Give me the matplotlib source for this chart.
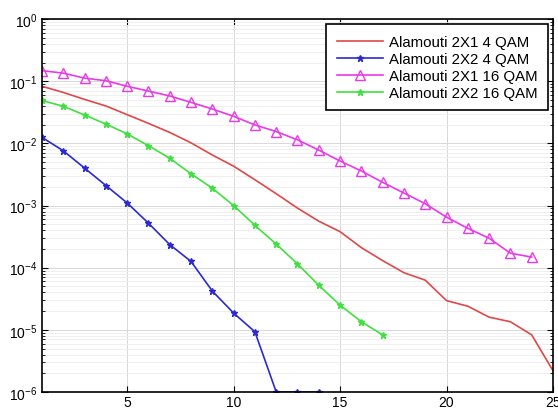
import numpy as np
import matplotlib.pyplot as plt
from matplotlib.ticker import LogLocator, NullFormatter

plt.rcParams['font.family'] = ['Liberation Sans', 'DejaVu Sans']
plt.rcParams['mathtext.fontset'] = 'custom'
plt.rcParams['mathtext.rm'] = 'Liberation Sans'

snr_red = list(range(1, 26))
ber_red = [8.3e-2, 6.6e-2, 5.1e-2, 4.0e-2, 2.9e-2, 2.1e-2, 1.5e-2, 1.02e-2, 6.5e-3,
           4.3e-3, 2.6e-3, 1.55e-3, 9.1e-4, 5.6e-4, 3.8e-4, 2.1e-4, 1.3e-4, 8.3e-5,
           6.3e-5, 2.95e-5, 2.4e-5, 1.6e-5, 1.35e-5, 8.3e-6, 2.2e-6]

snr_blue = list(range(1, 15))
ber_blue = [1.25e-2, 7.6e-3, 4.0e-3, 2.1e-3, 1.1e-3, 5.2e-4, 2.35e-4, 1.26e-4,
            4.2e-5, 1.86e-5, 9.3e-6, 1e-6, 1e-6, 1e-6]

snr_mag = list(range(1, 25))
ber_mag = [0.148, 0.135, 0.112, 0.102, 0.083, 0.0695, 0.058, 0.0457, 0.0357, 0.0273,
           0.0198, 0.0155, 0.0114, 0.0078, 0.0052, 0.0036, 0.00236, 0.00159, 0.00107,
           6.5e-4, 4.3e-4, 2.98e-4, 1.71e-4, 1.48e-4]

snr_green = list(range(1, 18))
ber_green = [4.9e-2, 3.95e-2, 2.86e-2, 2.05e-2, 1.42e-2, 9.2e-3, 5.75e-3, 3.24e-3,
             1.9e-3, 1.0e-3, 4.8e-4, 2.4e-4, 1.15e-4, 5.2e-5, 2.5e-5, 1.35e-5, 8.3e-6]

fig = plt.figure(figsize=(5.58, 4.10), dpi=100)
ax = fig.add_axes([0.0753, 0.0415, 0.9157, 0.9095])

ax.semilogy(snr_red, ber_red, '-', color='#e04848', lw=1.2, label='Alamouti 2X1 4 QAM')
ax.semilogy(snr_blue, ber_blue, '-*', color='#2a2ad0', lw=1.2, ms=5, label='Alamouti 2X2 4 QAM')
ax.semilogy(snr_mag, ber_mag, '-^', color='#e83ae8', lw=1.2, ms=7, mfc='none', mew=1.0,
            label='Alamouti 2X1 16 QAM')
ax.semilogy(snr_green, ber_green, '-*', color='#40e040', lw=1.2, ms=5, label='Alamouti 2X2 16 QAM')

ax.set_xlim(1, 25)
ax.set_ylim(1e-6, 1)
ax.set_xticks([5, 10, 15, 20, 25])
ax.yaxis.set_major_locator(LogLocator(base=10, numticks=10))
ax.yaxis.set_minor_locator(LogLocator(base=10, subs=np.arange(2, 10), numticks=20))
ax.yaxis.set_minor_formatter(NullFormatter())

ax.grid(True, which='major', color='#d8d8d8', lw=0.7)
ax.grid(True, which='minor', axis='y', color='#ececec', lw=0.6)
ax.tick_params(direction='in', top=True, right=True, labelsize=10, length=4)
ax.tick_params(axis='x', pad=2)
ax.tick_params(which='minor', direction='in', right=True, length=2)
for s in ax.spines.values():
    s.set_linewidth(1.2)

leg = ax.legend(loc='upper right', fontsize=10.8, fancybox=False, framealpha=1,
                edgecolor='black', borderaxespad=0.35, handlelength=3.1, labelspacing=0.2,
                borderpad=0.7, handletextpad=0.35)
leg.get_frame().set_linewidth(1.2)

fig.savefig('out.png', dpi=100)
